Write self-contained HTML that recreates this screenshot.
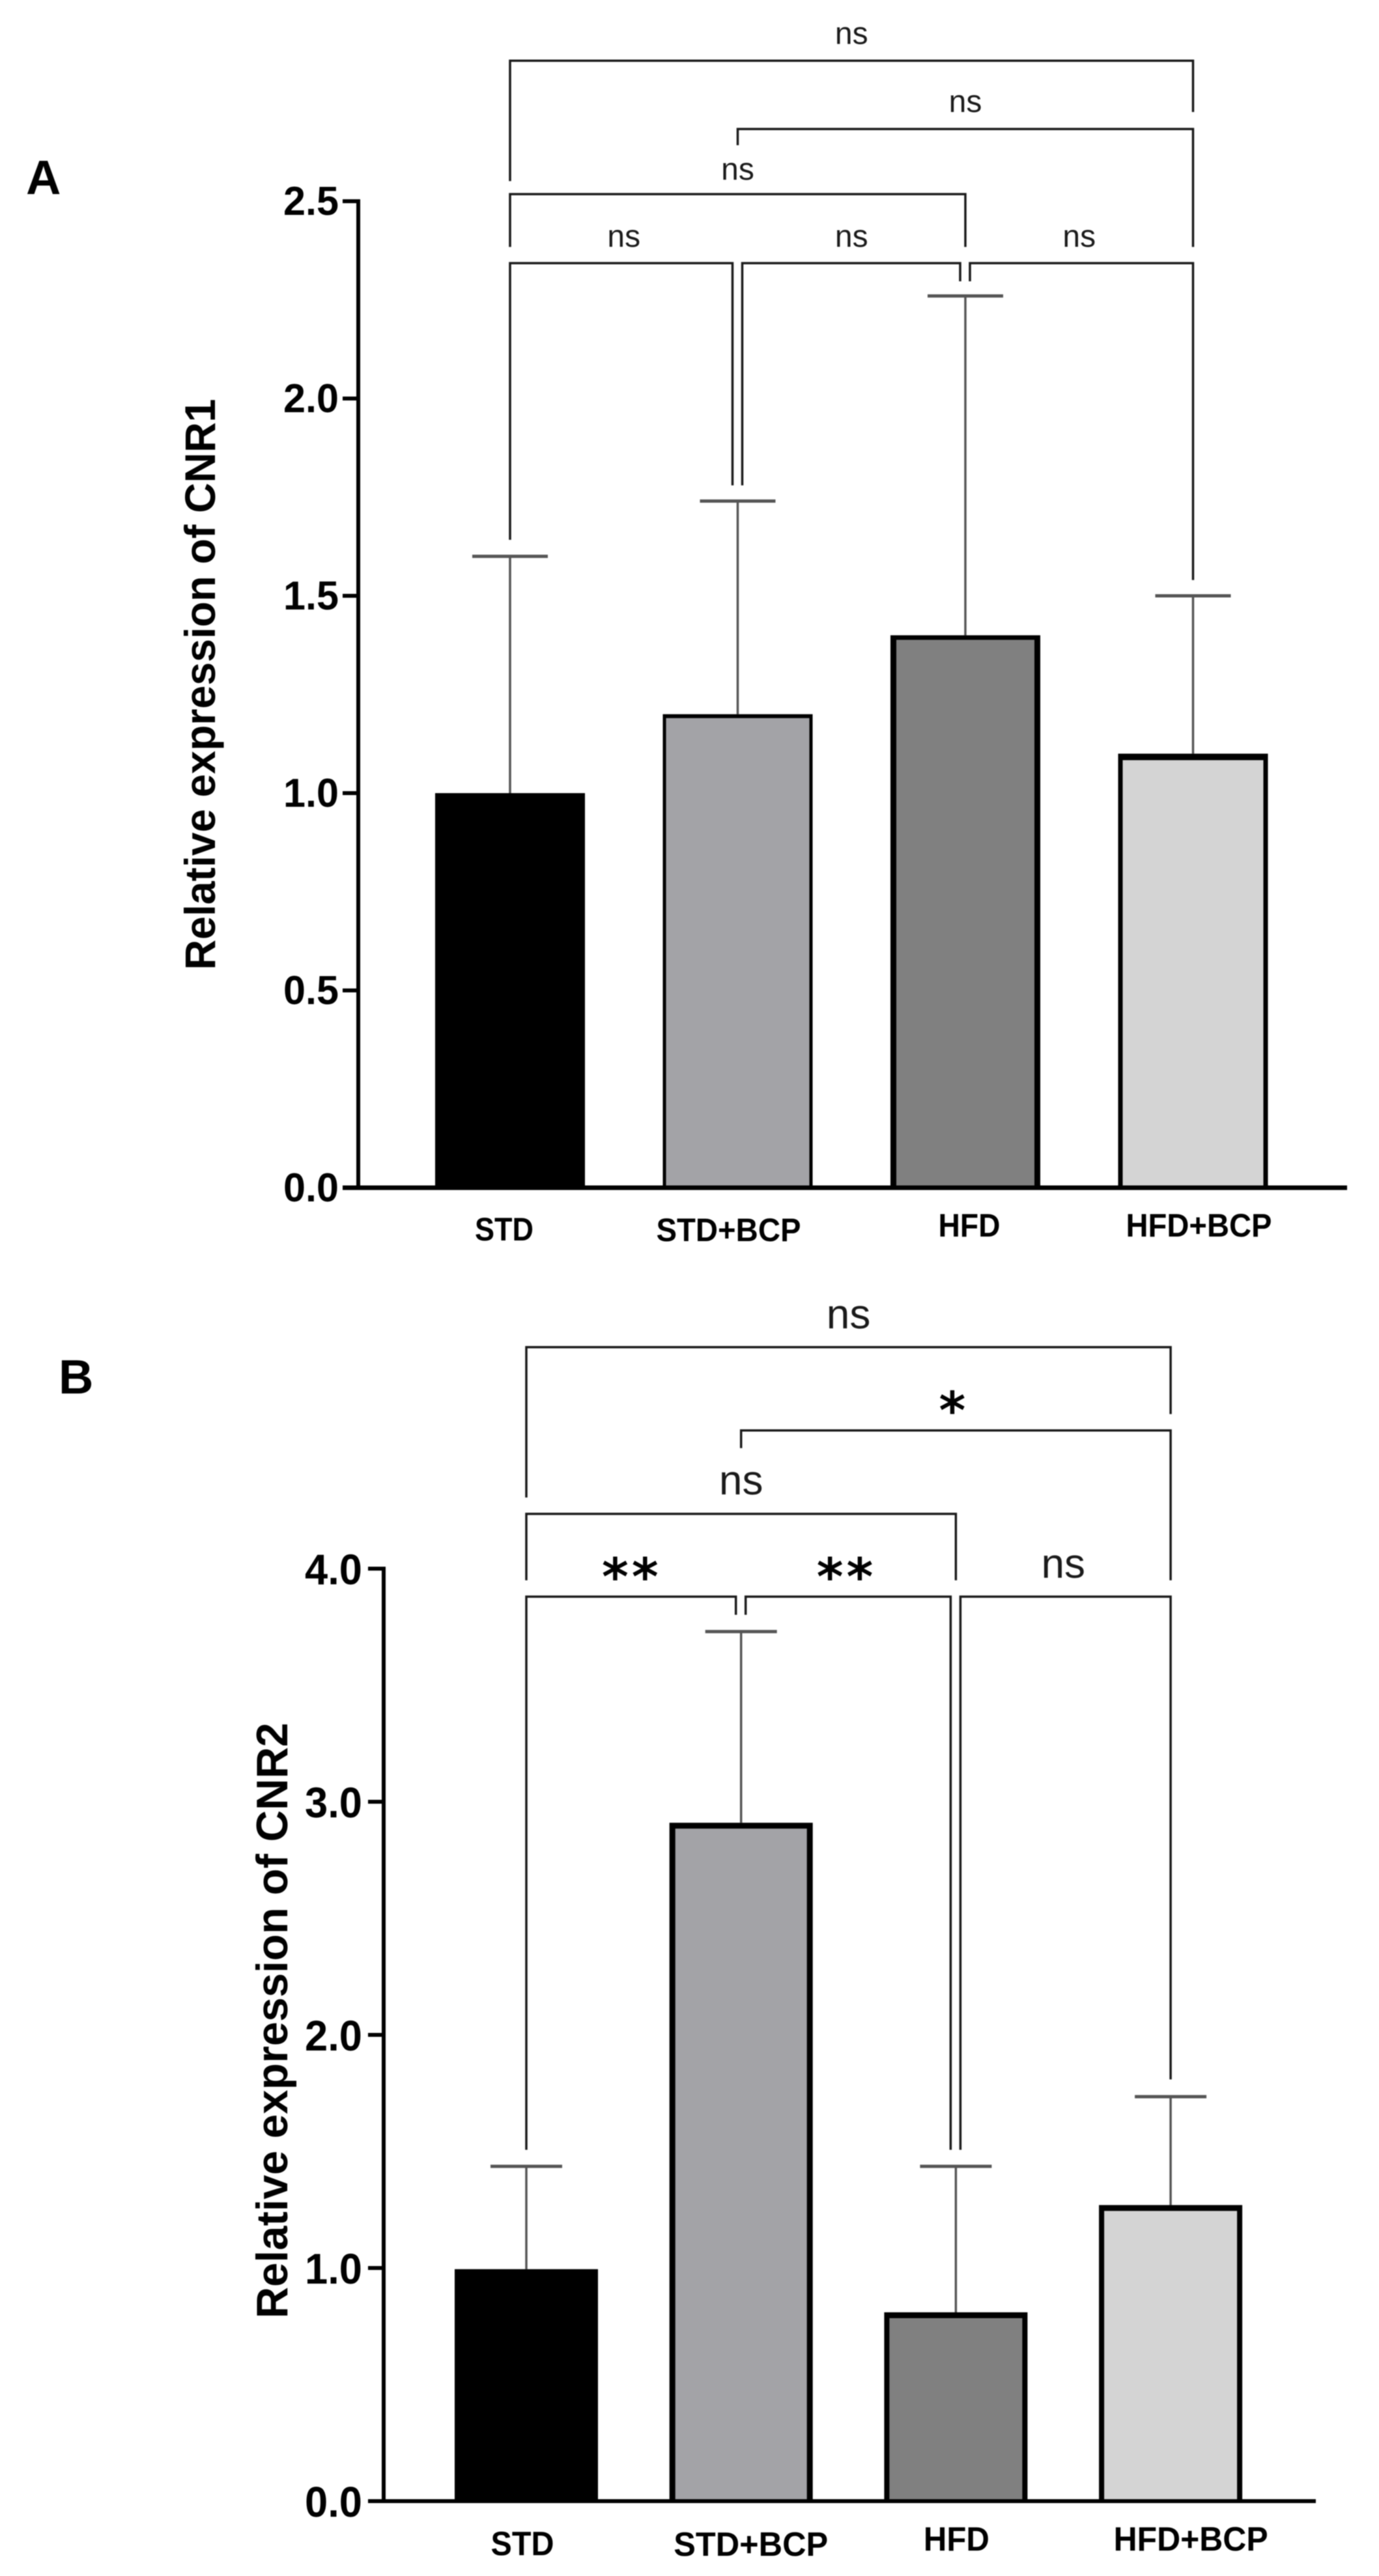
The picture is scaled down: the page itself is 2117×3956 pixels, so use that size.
<!DOCTYPE html>
<html lang="en">
<head>
<meta charset="utf-8">
<title>Relative expression of CNR1 and CNR2</title>
<style>
  html, body { margin: 0; padding: 0; background: #fff; }
  svg { display: block; font-family: "Liberation Sans", sans-serif; filter: blur(0.7px); }
</style>
</head>
<body>
<svg id="figure" xmlns="http://www.w3.org/2000/svg" width="2117" height="3956" viewBox="0 0 2117 3956">
  <rect x="0" y="0" width="2117" height="3956" fill="#fff"/>
  <text x="40" y="298" font-size="74" font-weight="700" fill="#000">A</text>
  <text x="90" y="2140" font-size="74" font-weight="700" fill="#000">B</text>
  <text transform="translate(330 1051) rotate(-90)" text-anchor="middle" font-size="66" font-weight="700" fill="#000" textLength="877" lengthAdjust="spacingAndGlyphs">Relative expression of CNR1</text>
  <text transform="translate(441 3103) rotate(-90)" text-anchor="middle" font-size="68" font-weight="700" fill="#000" textLength="915" lengthAdjust="spacingAndGlyphs">Relative expression of CNR2</text>
  <g id="panel-a"></g>
  <g id="panel-b"></g>
</svg>
<script>
const categories = ['STD', 'STD+BCP', 'HFD', 'HFD+BCP'];
const barColors = ['#000000', '#a3a3a7', '#808080', '#d4d4d4'];

const cnr1Means = [1.0, 1.2, 1.4, 1.1];
const cnr1ErrorTops = [1.6, 1.74, 2.26, 1.5];
const cnr1Ticks = [0, 0.5, 1, 1.5, 2, 2.5];
const cnr1TickLabels = ['0.0', '0.5', '1.0', '1.5', '2.0', '2.5'];
const cnr1CompareFrom = [0, 1, 0, 0, 1, 2];
const cnr1CompareTo = [3, 3, 2, 1, 2, 3];
const cnr1CompareLevel = [2.856, 2.683, 2.518, 2.343, 2.343, 2.343];
const cnr1CompareLeftEnd = [2.551, 2.642, 2.384, 1.642, 1.78, 2.297];
const cnr1CompareRightEnd = [2.726, 2.384, 2.384, 1.78, 2.297, 1.54];
const cnr1CompareLabels = ['ns', 'ns', 'ns', 'ns', 'ns', 'ns'];

const cnr2Means = [0.995, 2.91, 0.81, 1.27];
const cnr2ErrorTops = [1.436, 3.73, 1.436, 1.735];
const cnr2Ticks = [0, 1, 2, 3, 4];
const cnr2TickLabels = ['0.0', '1.0', '2.0', '3.0', '4.0'];
const cnr2CompareFrom = [0, 1, 0, 0, 1, 2];
const cnr2CompareTo = [3, 3, 2, 1, 2, 3];
const cnr2CompareLevel = [4.95, 4.593, 4.235, 3.88, 3.88, 3.88];
const cnr2CompareLeftEnd = [4.305, 4.517, 3.95, 1.507, 3.802, 1.507];
const cnr2CompareRightEnd = [4.663, 3.95, 3.95, 3.802, 1.507, 1.809];
const cnr2CompareLabels = ['ns', '*', 'ns', '**', '**', 'ns'];

const SVG_NS = 'http://www.w3.org/2000/svg';

function mk(parent, tag, attrs, content) {
  const node = document.createElementNS(SVG_NS, tag);
  Object.keys(attrs).forEach(function (key) { node.setAttribute(key, attrs[key]); });
  if (content !== undefined) node.textContent = content;
  parent.appendChild(node);
  return node;
}

function slug(text) {
  return text.toLowerCase().replace(/\+/g, '-');
}

function drawPanel(cfg) {
  const root = document.getElementById(cfg.rootId);
  const yOf = function (v) { return cfg.y0 - v * cfg.yUnit; };
  const xOf = function (i) { return cfg.x0 + i * cfg.xStep; };
  let el;

  // axes
  el = mk(root, 'line', { x1: cfg.axisX, x2: cfg.axisX, y1: yOf(cfg.ticks[cfg.ticks.length - 1]) - 3, y2: cfg.y0 + 3, stroke: '#000', 'stroke-width': 6 });
  
  

  cfg.ticks.forEach(function (t, i) {
    let tick = mk(root, 'line', { x1: cfg.axisX - 24, x2: cfg.axisX, y1: yOf(t), y2: yOf(t), stroke: '#000', 'stroke-width': 6 });
    
    
    let label = mk(root, 'text', { x: cfg.tickRight, y: yOf(t) + cfg.tickDy, 'text-anchor': 'end', 'font-size': cfg.tickFont, 'font-weight': 700, fill: '#000', textLength: cfg.tickWidth, lengthAdjust: 'spacingAndGlyphs' }, cfg.tickLabels[i]);
    
    
  });

  // bars and error bars
  categories.forEach(function (name, i) {
    const cx = xOf(i);
    const top = yOf(cfg.means[i]);
    const errTop = yOf(cfg.errors[i]);

    let stem = mk(root, 'line', { x1: cx, x2: cx, y1: errTop, y2: top, stroke: '#555', 'stroke-width': 3.5 });
    
    

    let cap = mk(root, 'line', { x1: cx - cfg.capHalf, x2: cx + cfg.capHalf, y1: errTop, y2: errTop, stroke: '#555', 'stroke-width': 5 });
    
    

    const left = cx - cfg.barWidth / 2;
    let bar = mk(root, 'rect', { x: left, y: top, width: cfg.barWidth, height: cfg.y0 - top, fill: '#000' });
    
    

    const side = cfg.sideStroke[i];
    const topBand = cfg.topStroke[i];
    let fill = mk(root, 'rect', { x: left + side, y: top + topBand, width: cfg.barWidth - 2 * side, height: cfg.y0 - top - topBand, fill: barColors[i] });
    
    

    let catLabel = mk(root, 'text', { x: cx + cfg.catDx[i], y: cfg.catBaseline[i], 'text-anchor': 'middle', 'font-size': cfg.catFont, 'font-weight': 700, fill: '#000', textLength: cfg.catWidth[i], lengthAdjust: 'spacingAndGlyphs' }, name);
    
    
  });

  el = mk(root, 'line', { x1: cfg.axisX - 24, x2: cfg.axisRight, y1: cfg.y0, y2: cfg.y0, stroke: '#000', 'stroke-width': cfg.baseStroke });
  
  

  // comparison brackets
  cfg.from.forEach(function (a, k) {
    const b = cfg.to[k];
    const level = cfg.level[k];
    const sharedLeft = cfg.to.some(function (t, j) { return j !== k && t === a && cfg.level[j] === level; });
    const sharedRight = cfg.from.some(function (f, j) { return j !== k && f === b && cfg.level[j] === level; });
    const xa = xOf(a) + (sharedLeft ? 7 : 0);
    const xb = xOf(b) - (sharedRight ? 8 : 0);
    const yLevel = yOf(level);
    const d = 'M' + xa + ' ' + yOf(cfg.leftEnd[k]) + ' V' + yLevel + ' H' + xb + ' V' + yOf(cfg.rightEnd[k]);
    let bracket = mk(root, 'path', { d: d, fill: 'none', stroke: '#1a1a1a', 'stroke-width': 3.5 });
    
    

    const text = cfg.labels[k];
    const isStar = text.indexOf('*') >= 0;
    const mid = (xOf(a) + xOf(b)) / 2;
    let sig;
    if (isStar) {
      sig = mk(root, 'text', { x: mid - 3, y: yLevel + cfg.starDy, 'text-anchor': 'middle', 'font-size': cfg.starFont, 'font-weight': 700, 'letter-spacing': 5, fill: '#000', 'font-family': '"DejaVu Sans", sans-serif' }, text);
    } else {
      sig = mk(root, 'text', { x: mid, y: yLevel - cfg.nsGap[k], 'text-anchor': 'middle', 'font-size': cfg.nsFont, fill: '#1a1a1a' }, text);
    }
    
    
  });
}

drawPanel({
  rootId: 'panel-a',
  means: cnr1Means, errors: cnr1ErrorTops, ticks: cnr1Ticks, tickLabels: cnr1TickLabels,
  from: cnr1CompareFrom, to: cnr1CompareTo, level: cnr1CompareLevel,
  leftEnd: cnr1CompareLeftEnd, rightEnd: cnr1CompareRightEnd, labels: cnr1CompareLabels,
  y0: 1824, yUnit: 606, x0: 783, xStep: 349.5,
  axisX: 550, axisRight: 2068, tickRight: 520, tickDy: 21, tickFont: 62, tickWidth: 85,
  barWidth: 230, capHalf: 58, baseStroke: 7,
  sideStroke: [6, 5, 9, 7], topStroke: [6, 6, 7, 10],
  catDx: [-9, -14, 6, 9], catBaseline: [1905, 1906, 1899, 1899], catWidth: [90, 222, 95, 224], catFont: 50,
  nsFont: 48, nsGap: [26, 26, 22, 25, 25, 25], starFont: 86, starDy: 0
});

drawPanel({
  rootId: 'panel-b',
  means: cnr2Means, errors: cnr2ErrorTops, ticks: cnr2Ticks, tickLabels: cnr2TickLabels,
  from: cnr2CompareFrom, to: cnr2CompareTo, level: cnr2CompareLevel,
  leftEnd: cnr2CompareLeftEnd, rightEnd: cnr2CompareRightEnd, labels: cnr2CompareLabels,
  y0: 3841, yUnit: 358, x0: 808, xStep: 329.7,
  axisX: 589, axisRight: 2020, tickRight: 556, tickDy: 24, tickFont: 66, tickWidth: 88,
  barWidth: 220, capHalf: 55, baseStroke: 6,
  sideStroke: [6, 9, 8, 8], topStroke: [6, 9, 9, 9],
  catDx: [-6, 15, 1, 31], catBaseline: [3924, 3925, 3917, 3917], catWidth: [97, 237, 101, 237], catFont: 52,
  nsFont: 64, nsGap: [29, 29, 30, 29, 29, 29], starFont: 78, starDy: -3
});
</script>
</body>
</html>
